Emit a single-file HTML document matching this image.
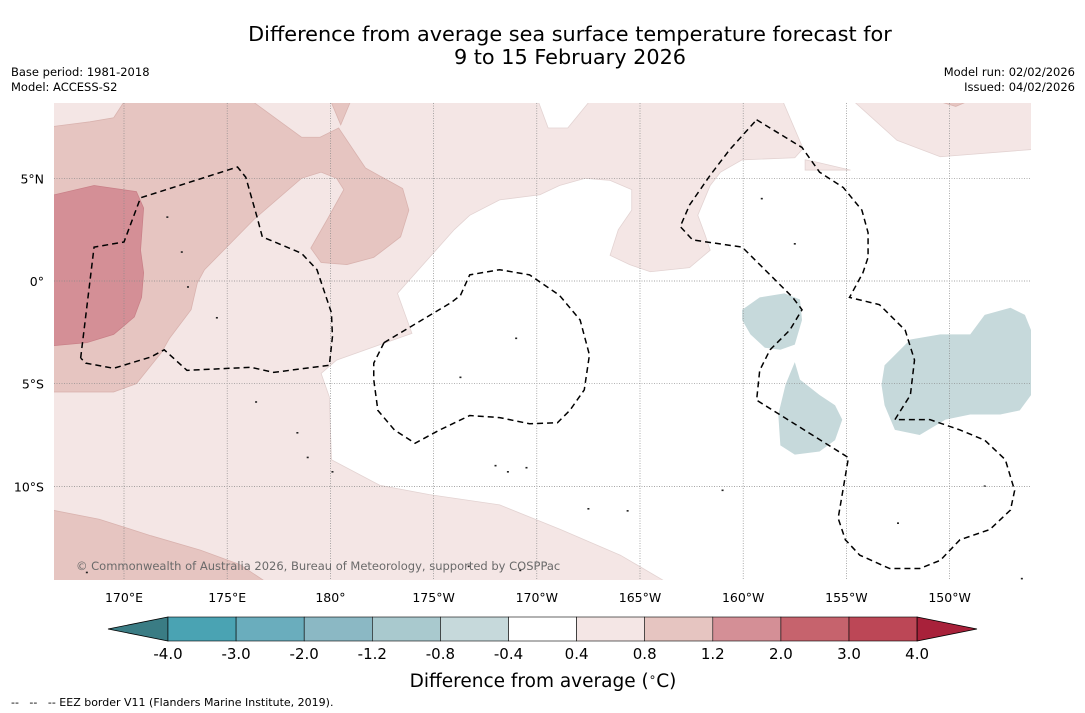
<!DOCTYPE html>
<html><head><meta charset="utf-8">
<style>
body{margin:0;background:#fff;width:1085px;height:713px;overflow:hidden;font-family:"DejaVu Sans","Liberation Sans",sans-serif;}
svg{position:absolute;left:0;top:0;font-family:"DejaVu Sans","Liberation Sans",sans-serif;}
</style></head>
<body>
<svg id="chart" width="1085" height="713">
<defs><clipPath id="mapclip"><rect x="54" y="103" width="977" height="477"/></clipPath></defs>
<text x="570" y="41" font-size="20.8" text-anchor="middle" fill="#000">Difference from average sea surface temperature forecast for</text>
<text x="570" y="64" font-size="20.8" text-anchor="middle" fill="#000">9 to 15 February 2026</text>
<text x="11" y="76" font-size="11.5">Base period: 1981-2018</text>
<text x="11" y="91" font-size="11.5">Model: ACCESS-S2</text>
<text x="1075" y="76" font-size="11.5" text-anchor="end">Model run: 02/02/2026</text>
<text x="1075" y="91" font-size="11.5" text-anchor="end">Issued: 04/02/2026</text>
<g id="map" clip-path="url(#mapclip)"></g>
<g id="grid"></g>
<g id="eez" clip-path="url(#mapclip)"></g>
<text x="76" y="570" font-size="11.5" fill="#6a6a6a">© Commonwealth of Australia 2026, Bureau of Meteorology, supported by COSPPac</text>
<g id="xaxis"></g>
<g id="yaxis"></g>
<g id="cbar"></g>
<text x="543" y="687" font-size="18.5" text-anchor="middle">Difference from average (<tspan font-size="12" dy="-6">∘</tspan><tspan dy="6">C)</tspan></text>
<text x="11" y="706" font-size="11" style="white-space:pre">--   --   -- EEZ border V11 (Flanders Marine Institute, 2019).</text>
</svg>
<script>
// ---- data ----
const lonTicks=[170,175,180,185,190,195,200,205,210];
const lonTickLabels=["170°E","175°E","180°","175°W","170°W","165°W","160°W","155°W","150°W"];
const latTicks=[5,0,-5,-10];
const latTickLabels=["5°N","0°","5°S","10°S"];
const cbLevels=["-4.0","-3.0","-2.0","-1.2","-0.8","-0.4","0.4","0.8","1.2","2.0","3.0","4.0"];
const cbColors=["#4aa3b3","#6aadbd","#8bb8c4","#a9c9ce","#c6d9db","#ffffff","#f4e6e5","#e6c5c1","#d48f96","#c6636d","#bc4756"];
const cbUnder="#3a7c84", cbOver="#a8213a";
// regions [lon(0-360E), lat]
const regionLight=[[166,-16],[166,9],[215,9],[215,-16]];
const regionWhite=[[196.85,-15.5],[196.85,-15],[194.05,-13.35],[191.15,-12.1],[188.2,-10.9],[184.8,-10.4],[182.4,-9.95],[180.05,-8.7],[179.95,-5.65],[179.55,-4.5],[180.3,-3.85],[183.95,-2.55],[183.25,-0.6],[186.0,2.5],[186.75,3.2],[188.2,3.95],[190.15,4.2],[191.1,4.65],[192.35,5.0],[193.55,4.9],[194.6,4.45],[194.6,3.45],[193.95,2.5],[193.55,1.25],[194.5,0.8],[195.5,0.45],[197.4,0.65],[198.4,1.5],[198.15,2.25],[197.8,3.2],[198.4,4.65],[198.9,5.3],[199.95,5.9],[202.5,6.0],[202.9,6.45],[201.9,8.8],[205.3,8.8],[207.45,6.85],[209.55,6.05],[213.95,6.4],[215,6.4],[215,-15.5]];
const regionWhiteNotch=[[190.05,8.8],[190.55,7.45],[191.5,7.45],[192.6,8.8]];
const regionLightBlob=[[203.0,5.9],[203.5,5.8],[205.2,5.4],[203.0,5.4]];
const regionMid=[[166,7.45],[168.35,7.75],[169.5,7.95],[170.05,8.8],[176.15,8.8],[178.6,7.0],[179.5,7.0],[180.4,7.45],[181.7,5.5],[183.5,4.5],[183.8,3.45],[183.4,2.15],[182.1,1.15],[180.8,0.8],[179.55,0.9],[179.05,1.6],[179.85,3.0],[180.65,4.45],[180.3,5.0],[179.55,5.3],[178.6,5.0],[176.3,3.0],[173.9,0.55],[173.55,-0.1],[173.25,-1.4],[172.2,-2.8],[171.8,-3.5],[170.6,-5.0],[169.5,-5.4],[166,-5.4]];
const regionMidNotch=[[180.0,8.8],[181.0,8.8],[180.5,7.6]];
const regionMidSouth=[[166,-11.05],[168.8,-11.6],[171.3,-12.4],[173.7,-13.1],[175.6,-13.8],[176.8,-14.6],[177.1,-15.5],[166,-15.5]];
const regionMidTR=[[209.3,8.8],[211.0,8.8],[210.3,8.5]];
const regionHigh=[[166,4.05],[168.55,4.65],[170.6,4.35],[170.95,3.55],[170.8,1.5],[170.95,0.4],[170.85,-0.8],[170.5,-1.75],[169.5,-2.6],[168.2,-3.0],[166,-3.2]];
const regionCool1=[[199.95,-1.4],[200.8,-0.8],[202.0,-0.6],[202.75,-0.9],[202.85,-1.9],[202.5,-3.1],[201.8,-3.35],[201.05,-3.25],[200.35,-2.6],[199.95,-1.9]];
const regionCool2=[[202.5,-3.95],[202.75,-4.8],[203.7,-5.55],[204.45,-6.05],[204.8,-6.75],[204.45,-7.75],[203.7,-8.3],[202.5,-8.45],[201.8,-8.0],[201.7,-6.5],[202.05,-5.05]];
const regionCool3=[[206.85,-4.1],[208.1,-2.85],[209.55,-2.6],[211.0,-2.6],[211.7,-1.65],[212.95,-1.3],[213.65,-1.65],[213.95,-2.4],[215,-2.4],[215,-5.55],[213.95,-5.55],[213.4,-6.3],[212.45,-6.5],[211.0,-6.5],[209.8,-6.75],[208.55,-7.5],[207.35,-7.25],[206.85,-6.05],[206.7,-5.05]];
const eezWest=[[167.9,-3.75],[168.55,1.65],[170.0,1.9],[170.8,4.05],[175.5,5.55],[175.9,5.05],[176.45,3.1],[176.7,2.15],[178.6,1.35],[179.35,0.55],[180.05,-1.55],[180.1,-2.7],[179.95,-4.1],[177.25,-4.45],[176.15,-4.2],[173.05,-4.35],[171.95,-3.35],[171.3,-3.7],[169.5,-4.25],[168.15,-4.0],[167.9,-3.75]];
const eezCentral=[[182.6,-3.0],[185.85,-1.05],[186.3,-0.7],[186.75,0.3],[188.2,0.55],[189.65,0.3],[191.1,-0.7],[192.1,-1.9],[192.55,-3.6],[192.3,-5.3],[191.6,-6.3],[191.0,-6.9],[189.65,-6.95],[188.2,-6.65],[186.75,-6.55],[185.3,-7.25],[184.1,-7.9],[183.1,-7.25],[182.3,-6.3],[182.1,-4.8],[182.1,-4.0],[182.6,-3.0]];
const eezEast=[[200.65,7.85],[202.85,6.5],[203.7,5.3],[204.85,4.55],[205.75,3.45],[206.05,2.35],[206.05,1.15],[205.8,0.4],[205.15,-0.8],[206.6,-1.15],[207.85,-2.4],[208.3,-3.85],[208.1,-5.55],[207.35,-6.75],[209.05,-6.75],[210.5,-7.25],[211.7,-7.75],[212.7,-8.7],[213.15,-10.2],[212.95,-11.15],[211.95,-12.1],[210.5,-12.6],[209.55,-13.6],[208.55,-14.0],[207.1,-14.0],[205.65,-13.35],[204.95,-12.6],[204.6,-11.55],[205.1,-8.6],[200.65,-5.8],[200.8,-4.35],[201.3,-3.35],[202.25,-2.4],[202.85,-1.4],[202.4,-0.8],[199.95,1.65],[197.55,2.0],[196.95,2.65],[197.4,3.7],[198.4,5.15],[199.35,6.4],[200.65,7.85]];
const islands=[[172.1,3.1],[172.8,1.4],[173.1,-0.3],[174.5,-1.8],[176.4,-5.9],[178.4,-7.4],[178.9,-8.6],[180.1,-9.3],[186.3,-4.7],[189.0,-2.8],[188.0,-9.0],[188.6,-9.3],[189.5,-9.1],[199.0,-10.2],[200.9,4.0],[202.5,1.8],[207.5,-11.8],[211.7,-10.0],[166.2,-11.0],[168.2,-14.2],[186.7,-13.9],[189.2,-14.1],[213.5,-14.5],[192.5,-11.1],[194.4,-11.2]];
// ---- axes ----
const NS="http://www.w3.org/2000/svg";
const xS=lon=>124+(lon-170)*20.64;
const yS=lat=>281-lat*20.54;
function mk(tag,attrs,parent){const e=document.createElementNS(NS,tag);for(const k in attrs)e.setAttribute(k,attrs[k]);parent.appendChild(e);return e;}
const map=document.getElementById('map');
function poly(pts,fill,name,stroke){
  const p=mk('polygon',{points:pts.map(d=>xS(d[0])+','+yS(d[1])).join(' '),fill:fill,stroke:stroke||'none','stroke-width':0.8},map);
  
  
}
poly(regionLight,"#f4e6e5","anomaly-0.4-0.8");
poly(regionWhite,"#ffffff","anomaly-neutral","#e3d3d2");
poly(regionWhiteNotch,"#ffffff","anomaly-neutral-notch","#e3d3d2");
poly(regionLightBlob,"#f4e6e5","anomaly-0.4-0.8-blob","#e3d3d2");
poly(regionMid,"#e6c5c1","anomaly-0.8-1.2","#d9b3af");
poly(regionMidNotch,"#e6c5c1","anomaly-0.8-1.2-notch","#d9b3af");
poly(regionMidSouth,"#e6c5c1","anomaly-0.8-1.2-south","#d9b3af");
poly(regionMidTR,"#e6c5c1","anomaly-0.8-1.2-ne","#d9b3af");
poly(regionHigh,"#d48f96","anomaly-1.2-2.0","#c98088");
poly(regionCool1,"#c6d9db","anomaly-cool-1");
poly(regionCool2,"#c6d9db","anomaly-cool-2");
poly(regionCool3,"#c6d9db","anomaly-cool-3");
islands.forEach(d=>{
  const c=mk('rect',{x:xS(d[0])-1,y:yS(d[1])-1,width:2,height:1.6,fill:'#222'},map);
  
  
});
const grid=document.getElementById('grid');
lonTicks.forEach((t,i)=>{
  const l=mk('line',{x1:xS(t),x2:xS(t),y1:103,y2:580,stroke:'#888','stroke-width':0.7,'stroke-dasharray':'1,1.5'},grid);
  
  
  const tx=mk('text',{x:xS(t),y:602,'font-size':12.5,'text-anchor':'middle'},document.getElementById('xaxis'));
  tx.textContent=lonTickLabels[i];
  
  
});
latTicks.forEach((t,i)=>{
  const l=mk('line',{x1:54,x2:1031,y1:yS(t),y2:yS(t),stroke:'#888','stroke-width':0.7,'stroke-dasharray':'1,1.5'},grid);
  
  
  const tx=mk('text',{x:44,y:yS(t)+5,'font-size':12.5,'text-anchor':'end'},document.getElementById('yaxis'));
  tx.textContent=latTickLabels[i];
  
  
});
const eez=document.getElementById('eez');
[eezWest,eezCentral,eezEast].forEach(pts=>{
  const p=mk('polyline',{points:pts.map(d=>xS(d[0])+','+yS(d[1])).join(' '),fill:'none',stroke:'#000','stroke-width':1.5,'stroke-dasharray':'6,4'},eez);
  
  
});
// ---- colorbar ----
const cb=document.getElementById('cbar');
const cbX=i=>168+i*68.1, cbT=617, cbB=641;
const under=mk('polygon',{points:`108,${(cbT+cbB)/2} ${cbX(0)},${cbT} ${cbX(0)},${cbB}`,fill:cbUnder,stroke:'#000','stroke-width':0.8},cb);


cbColors.forEach((c,i)=>{
  const r=mk('rect',{x:cbX(i),y:cbT,width:68.1,height:cbB-cbT,fill:c,stroke:'#000','stroke-width':0.6},cb);
  
  
});
const n=cbLevels.length-1;
const over=mk('polygon',{points:`${cbX(n)},${cbT} 977,${(cbT+cbB)/2} ${cbX(n)},${cbB}`,fill:cbOver,stroke:'#000','stroke-width':0.8},cb);


cbLevels.forEach((lv,i)=>{
  const t=mk('text',{x:cbX(i),y:659,'font-size':15,'text-anchor':'middle'},cb);
  t.textContent=lv;
  
  
});
</script>
</body></html>
